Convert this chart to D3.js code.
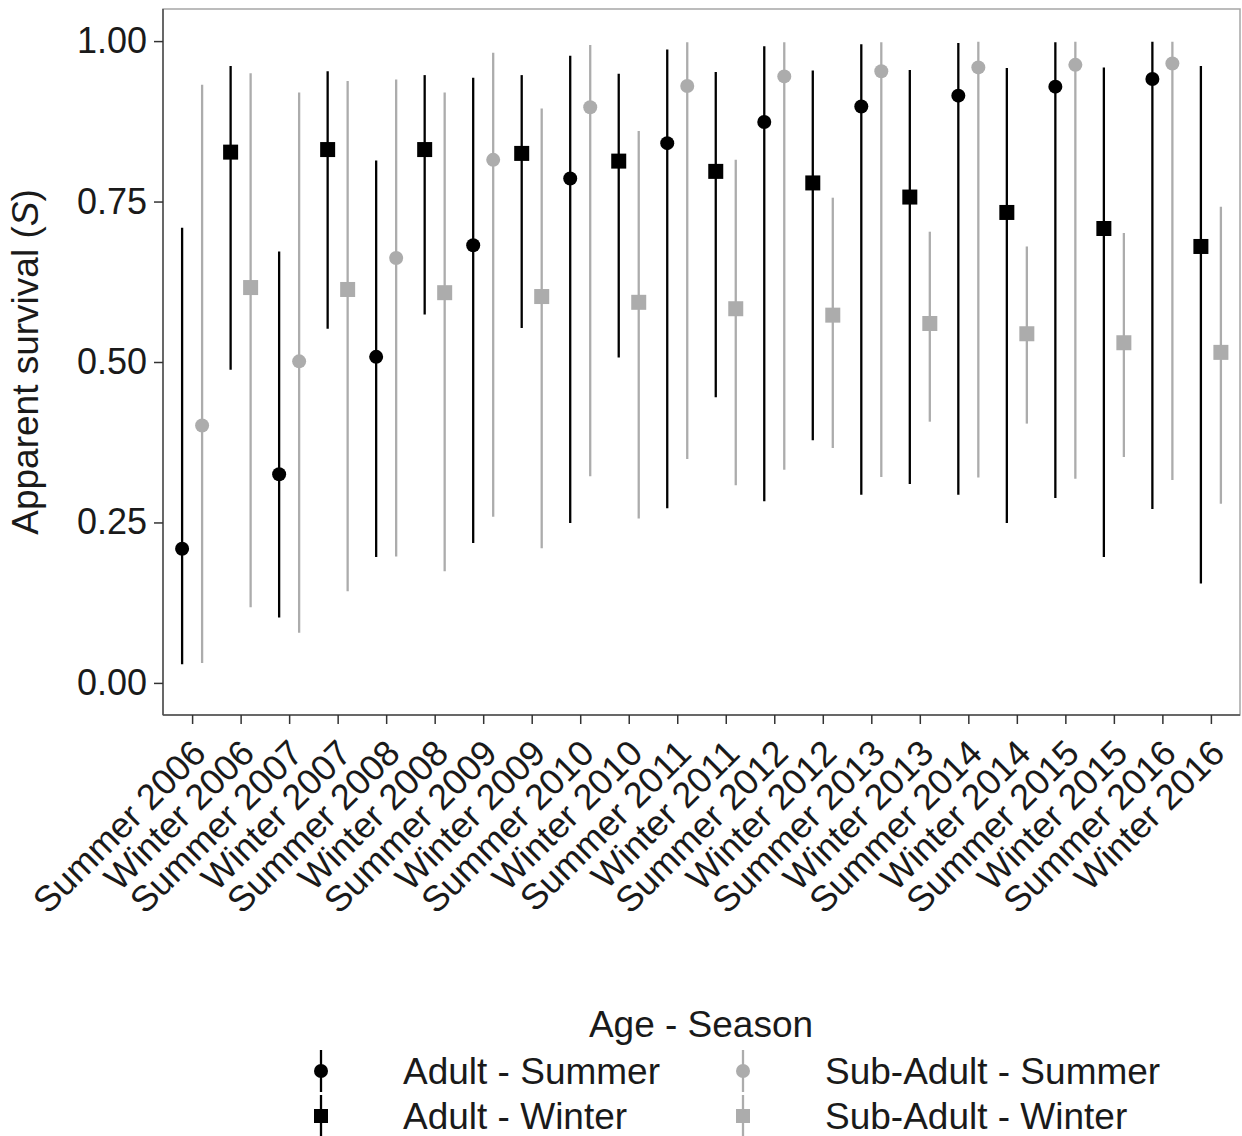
<!DOCTYPE html>
<html>
<head>
<meta charset="utf-8">
<script src="https://cdn.jsdelivr.net/npm/d3@7"></script>
<style>
  body { margin: 0; background: #fff; }
  text { font-family: "Liberation Sans", Arial, sans-serif; fill: #1a1a1a; }
</style>
</head>
<body>
<svg width="1242" height="1136"></svg>
<script>
// **** Data ****
var categories = ['Summer 2006','Winter 2006','Summer 2007','Winter 2007','Summer 2008','Winter 2008',
    'Summer 2009','Winter 2009','Summer 2010','Winter 2010','Summer 2011','Winter 2011',
    'Summer 2012','Winter 2012','Summer 2013','Winter 2013','Summer 2014','Winter 2014',
    'Summer 2015','Winter 2015','Summer 2016','Winter 2016'];

var adultEst = [0.209,0.827,0.325,0.831,0.508,0.831,0.682,0.825,0.786,0.813,0.841,0.797,
    0.874,0.779,0.898,0.757,0.915,0.733,0.929,0.708,0.941,0.680];
var adultLo  = [0.029,0.488,0.102,0.552,0.196,0.574,0.218,0.553,0.249,0.507,0.272,0.445,
    0.283,0.378,0.293,0.310,0.293,0.249,0.288,0.196,0.271,0.155];
var adultHi  = [0.709,0.961,0.672,0.953,0.814,0.947,0.943,0.947,0.977,0.949,0.987,0.952,
    0.992,0.954,0.995,0.955,0.997,0.958,0.998,0.959,0.999,0.961];

var subEst = [0.401,0.616,0.501,0.613,0.662,0.608,0.815,0.602,0.897,0.593,0.930,0.583,
    0.945,0.573,0.953,0.560,0.959,0.544,0.963,0.530,0.965,0.515];
var subLo  = [0.031,0.118,0.078,0.143,0.197,0.174,0.259,0.210,0.322,0.256,0.349,0.308,
    0.332,0.366,0.321,0.407,0.320,0.404,0.318,0.352,0.316,0.279];
var subHi  = [0.932,0.950,0.920,0.938,0.940,0.920,0.982,0.895,0.994,0.860,0.998,0.815,
    0.998,0.756,0.998,0.703,0.999,0.680,0.999,0.701,0.999,0.742];

var yTicks = [0, 0.25, 0.5, 0.75, 1];
var legendLabels = ['Adult - Summer','Adult - Winter','Sub-Adult - Summer','Sub-Adult - Winter'];

// **** Scales ****
var panel = {left: 163, right: 1240, top: 9, bottom: 715};

var xScale = d3.scalePoint()
    .domain(categories).range([panel.left, panel.right]).padding(0.6);

var dodge = d3.scalePoint()
    .domain(['Adult','Sub-Adult']).range([-10, 10]);

var yScale = d3.scaleLinear()
    .domain([-0.05, 1.05]).range([panel.bottom, panel.top]);

var colour = d3.scaleOrdinal()
    .domain(['Adult','Sub-Adult']).range(['#000000','#acacac']);

var svg = d3.select('svg');

// build rows
var rows = [];
categories.forEach(function(c, i) {
    var season = c.split(' ')[0];
    rows.push({cat: c, age: 'Adult', season: season, est: adultEst[i], lo: adultLo[i], hi: adultHi[i]});
    rows.push({cat: c, age: 'Sub-Adult', season: season, est: subEst[i], lo: subLo[i], hi: subHi[i]});
});

// **** Panel ****
svg.append('rect')
    .attr('x', panel.left).attr('y', panel.top)
    .attr('width', panel.right - panel.left).attr('height', panel.bottom - panel.top)
    .attr('fill', '#fff').attr('stroke', '#a6a6a6').attr('stroke-width', 1.5);

// marks
var group = svg.append('g').selectAll('g')
    .data(rows).enter().append('g')
    .attr('transform', function(d) {
        return 'translate(' + (xScale(d.cat) + dodge(d.age)) + ',0)';
    });

group.append('line')
    .attr('y1', function(d) { return yScale(d.lo); })
    .attr('y2', function(d) { return yScale(d.hi); })
    .attr('stroke', function(d) { return colour(d.age); })
    .attr('stroke-width', 2.3);

group.each(function(d) {
    var g = d3.select(this);
    if (d.season === 'Summer') {
        g.append('circle').attr('cy', yScale(d.est)).attr('r', 7)
            .attr('fill', colour(d.age));
    } else {
        g.append('rect').attr('x', -7.5).attr('y', yScale(d.est) - 7.5)
            .attr('width', 15).attr('height', 15)
            .attr('fill', colour(d.age));
    }
});

// **** Axes ****
svg.append('line')
    .attr('x1', panel.left).attr('x2', panel.left)
    .attr('y1', panel.top).attr('y2', panel.bottom)
    .attr('stroke', '#4d4d4d').attr('stroke-width', 1.5);
svg.append('line')
    .attr('x1', panel.left).attr('x2', panel.right)
    .attr('y1', panel.bottom).attr('y2', panel.bottom)
    .attr('stroke', '#4d4d4d').attr('stroke-width', 1.5);

var yAxis = svg.append('g')
    .attr('transform', 'translate(' + panel.left + ',0)')
    .call(d3.axisLeft(yScale).tickValues(yTicks).tickSize(9).tickPadding(7)
        .tickFormat(d3.format('.2f')));
yAxis.select('.domain').remove();
yAxis.selectAll('line').attr('stroke', '#333').attr('stroke-width', 1.5);
yAxis.selectAll('text').style('font-size', '36px').attr('fill', '#1a1a1a')
    .style('font-family', '"Liberation Sans", Arial, sans-serif');

var xAxis = svg.append('g')
    .attr('transform', 'translate(0,' + panel.bottom + ')')
    .call(d3.axisBottom(xScale).tickSize(9).tickPadding(4));
xAxis.select('.domain').remove();
xAxis.selectAll('line').attr('stroke', '#333').attr('stroke-width', 1.5);
xAxis.selectAll('text')
    .style('font-size', '36px').attr('fill', '#1a1a1a')
    .style('font-family', '"Liberation Sans", Arial, sans-serif')
    .attr('text-anchor', 'end')
    .attr('x', -3).attr('y', 22).attr('dy', '0.72em')
    .attr('transform', 'rotate(-45 -3 22)');

// y label
var ylab = svg.append('text')
    .attr('transform', 'translate(25,' + ((panel.top + panel.bottom) / 2) + ') rotate(-90)')
    .attr('text-anchor', 'middle')
    .attr('dy', '0.35em')
    .style('font-size', '37px');
ylab.append('tspan').text('Apparent survival (');
ylab.append('tspan').style('font-style', 'italic').text('S');
ylab.append('tspan').text(')');

// **** Legend ****
svg.append('text')
    .attr('x', 701).attr('y', 1037)
    .attr('text-anchor', 'middle')
    .style('font-size', '37px')
    .text('Age - Season');

var legendItems = [
    {label: legendLabels[0], age: 'Adult', season: 'Summer', col: 0, row: 0},
    {label: legendLabels[1], age: 'Adult', season: 'Winter', col: 0, row: 1},
    {label: legendLabels[2], age: 'Sub-Adult', season: 'Summer', col: 1, row: 0},
    {label: legendLabels[3], age: 'Sub-Adult', season: 'Winter', col: 1, row: 1}
];
var keyX = [321, 743], textX = [403, 825], rowY = [1071, 1116];

var key = svg.append('g').selectAll('g')
    .data(legendItems).enter().append('g')
    .attr('transform', function(d) { return 'translate(' + keyX[d.col] + ',' + rowY[d.row] + ')'; });

key.append('line')
    .attr('y1', -21).attr('y2', 21)
    .attr('stroke', function(d) { return colour(d.age); })
    .attr('stroke-width', 2.3);
key.each(function(d) {
    var g = d3.select(this);
    if (d.season === 'Summer') {
        g.append('circle').attr('r', 7).attr('fill', colour(d.age));
    } else {
        g.append('rect').attr('x', -7).attr('y', -7).attr('width', 14).attr('height', 14)
            .attr('fill', colour(d.age));
    }
});
key.append('text')
    .attr('x', function(d) { return textX[d.col] - keyX[d.col]; })
    .attr('dy', '0.36em')
    .style('font-size', '37px')
    .text(function(d) { return d.label; });
</script>
</body>
</html>
